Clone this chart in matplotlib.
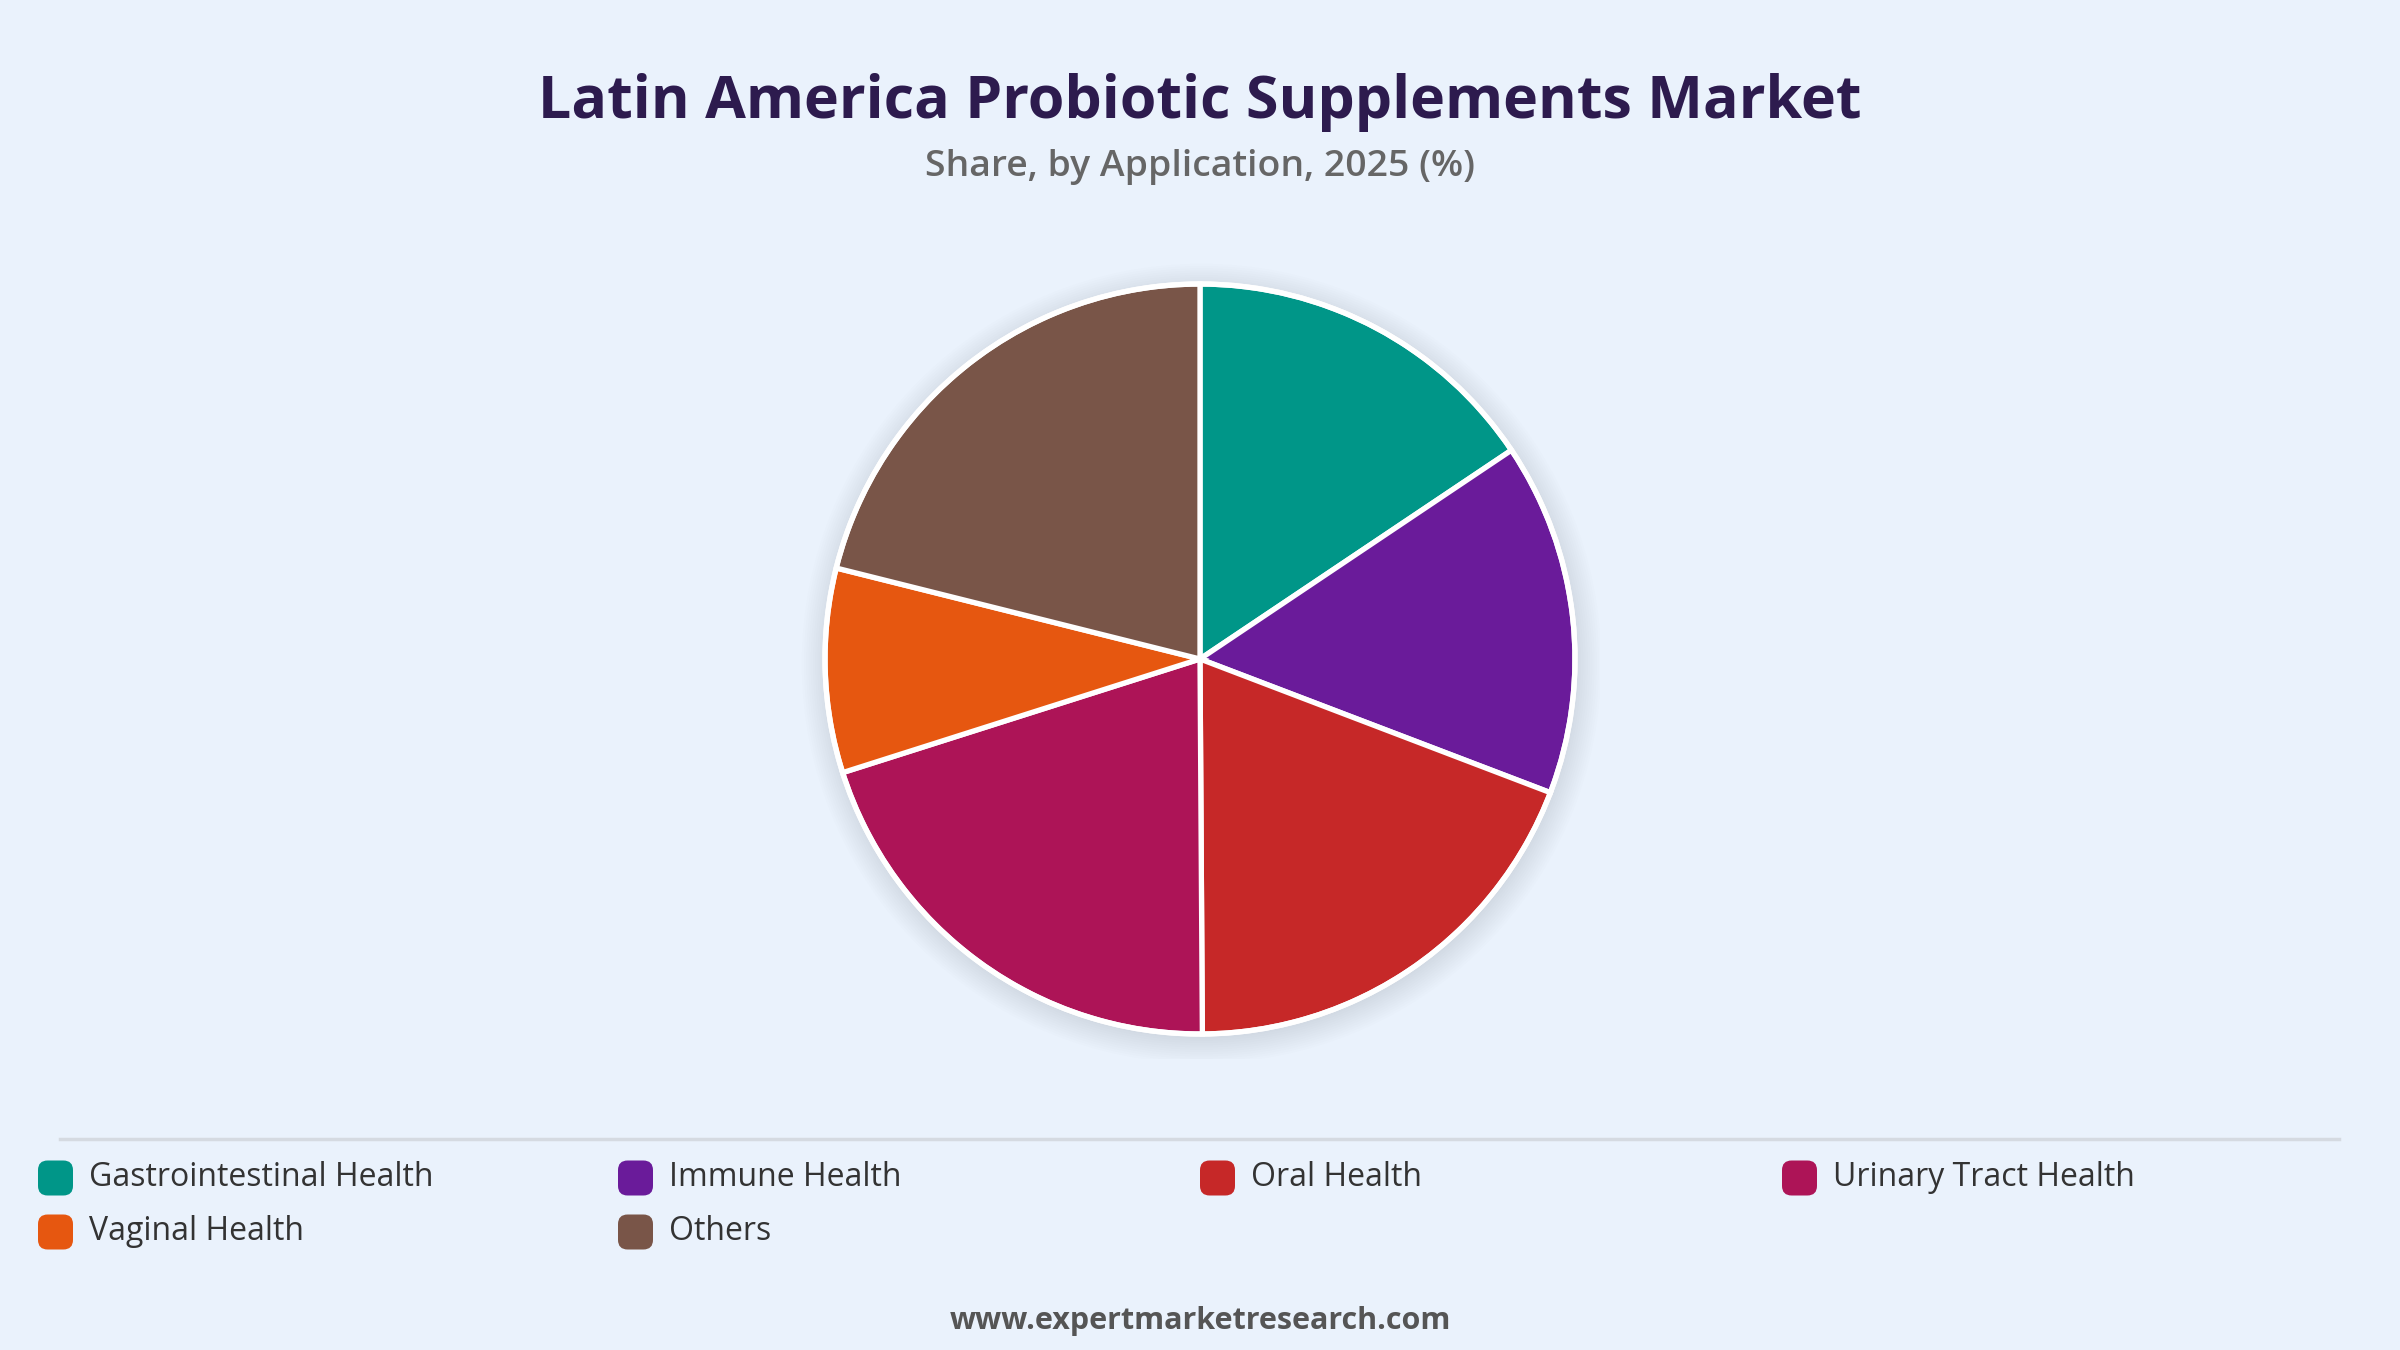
import matplotlib
matplotlib.use("Agg")
import matplotlib.pyplot as plt
from matplotlib.patches import Circle, FancyBboxPatch

categories = ["Gastrointestinal Health", "Immune Health", "Oral Health",
              "Urinary Tract Health", "Vaginal Health", "Others"]
shares = [15.6, 15.2, 19.1, 20.2, 8.8, 21.1]
colors = ["#009688", "#6A1B9A", "#C62828", "#AD1457", "#E65710", "#795548"]

title = "Latin America Probiotic Supplements Market"
subtitle = "Share, by Application, 2025 (%)"
footer = "www.expertmarketresearch.com"

BG = "#EAF2FC"
W, H = 2400, 1350
DPI = 100
plt.rcParams['font.family'] = ['Open Sans', 'DejaVu Sans']

fig = plt.figure(figsize=(W / DPI, H / DPI), dpi=DPI, facecolor=BG)

# pie axes: center at (1200, 659) px from top, radius ~375 px
cx, cy, half = 1200, 659, 400
ax = fig.add_axes([(cx - half) / W, (H - cy - half) / H, 2 * half / W, 2 * half / H])
ax.set_facecolor(BG)
L = half / 375.0
ax.axis('off')

# soft shadow
for k in range(12):
    ax.add_patch(Circle((0.004, -0.012), 1.0 + 0.006 * k, color="#9aa6b8",
                        alpha=0.022, lw=0, zorder=0))

ax.pie(shares, colors=colors, startangle=90, counterclock=False,
       radius=1.0, wedgeprops=dict(edgecolor="white", linewidth=3.8))
ax.add_patch(Circle((0, 0), 1.0, fill=False, ec="white", lw=3.8, zorder=5))
ax.set_xlim(-L, L)
ax.set_ylim(-L, L)
ax.set_aspect('equal')

fig.text(0.5, 1 - 102 / H, title, ha='center', va='center', fontsize=42.6,
         fontweight='bold', color="#2D1B4E")
fig.text(0.5, 1 - 167 / H, subtitle, ha='center', va='center', fontsize=26.9,
         fontweight='semibold', color="#666666")

# separator
fig.add_artist(plt.Line2D([60 / W, 2339 / W], [1 - 1139 / H] * 2,
                          color="#D5DAE1", lw=2.5))

col_x = [38, 618, 1200, 1782]
row_y = [1178, 1232]
sw = 35
for i, (lab, c) in enumerate(zip(categories, colors)):
    col = i % 4
    row = i // 4
    x0 = col_x[col]
    yc = row_y[row]
    fig.add_artist(FancyBboxPatch((x0 / W, (H - yc - sw / 2) / H), sw / W, sw / H,
                                  boxstyle="round,pad=0,rounding_size=0.004",
                                  transform=fig.transFigure, fc=c, ec='none',
                                  mutation_aspect=W / H))
    fig.text((x0 + 51) / W, 1 - yc / H, lab, ha='left', va='center',
             fontsize=23, color="#333333")

fig.text(0.5, 1 - 1321 / H, footer, ha='center', va='center', fontsize=22,
         fontweight='bold', color="#555555")

fig.savefig("out.png", dpi=DPI, facecolor=BG)
